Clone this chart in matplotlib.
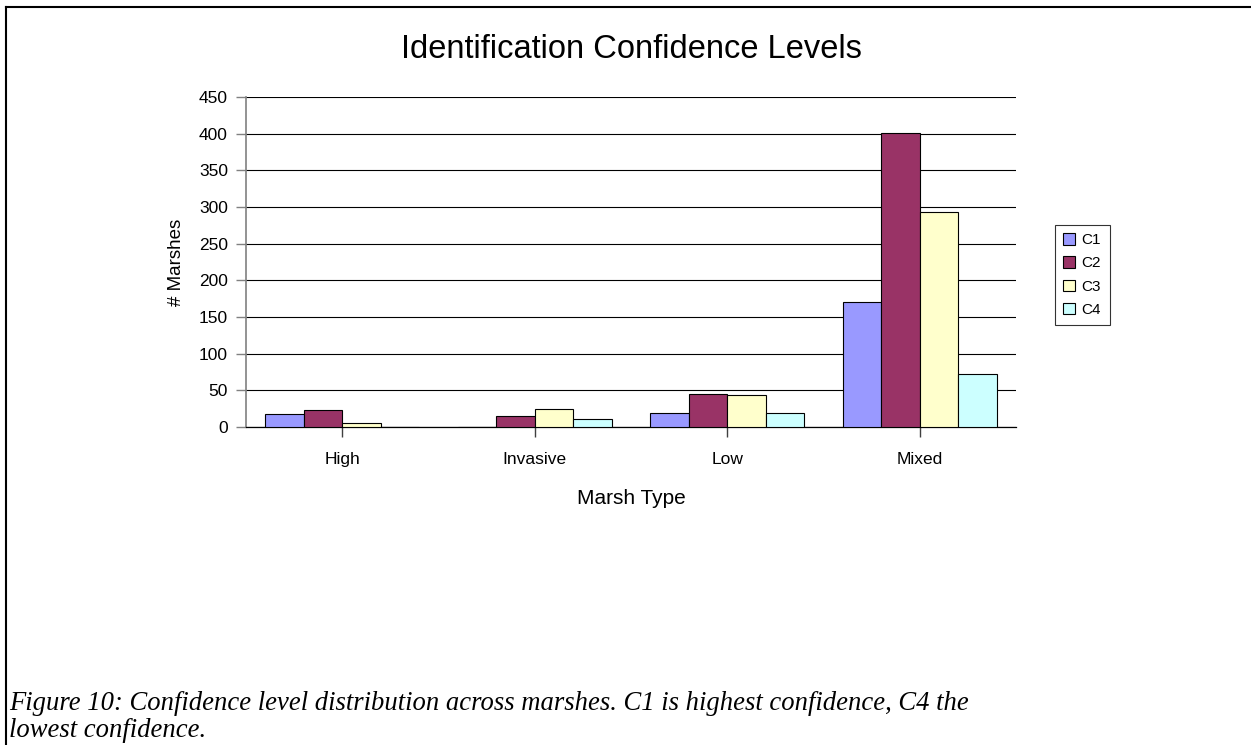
import matplotlib
matplotlib.use("Agg")
import matplotlib.pyplot as plt
from matplotlib.lines import Line2D
import numpy as np

categories = ["High", "Invasive", "Low", "Mixed"]
series = ["C1", "C2", "C3", "C4"]
c1 = [18, 0, 19, 171]
c2 = [23, 15, 45, 401]
c3 = [5, 25, 43, 293]
c4 = [0, 11, 19, 72]
colors = ["#9999FF", "#993366", "#FFFFCC", "#CCFFFF"]

plt.rcParams['font.family'] = ['Liberation Sans', 'DejaVu Sans']

fig = plt.figure(figsize=(12.51, 7.45), dpi=100)
ax = fig.add_axes([246/1251, 1 - 427/745, 770/1251, 330/745])

x = np.arange(len(categories))
w = 0.2
for i, (vals, name) in enumerate(zip([c1, c2, c3, c4], series)):
    ax.bar(x + (i - 1.5) * w, vals, width=w, color=colors[i],
           edgecolor='black', linewidth=0.8, label=name, zorder=3)

ax.set_xlim(-0.5, 3.5)
ax.set_ylim(0, 450)
ax.set_yticks(range(0, 451, 50))
ax.set_xticks(x)
ax.set_xticklabels(categories)
ax.yaxis.grid(True, color='black', linewidth=0.8, zorder=0)
ax.set_axisbelow(True)

for s in ['top', 'right']:
    ax.spines[s].set_visible(False)
ax.spines['left'].set_color('#808080')
ax.spines['left'].set_linewidth(1.2)
ax.spines['bottom'].set_color('black')
ax.spines['bottom'].set_linewidth(0.9)

ax.tick_params(axis='y', length=7, color='#808080', width=1, labelsize=12.5, pad=6)
ax.tick_params(axis='x', length=7, color='#404040', width=1, labelsize=12.5, pad=11)

ax.set_xlabel("Marsh Type", fontsize=15, labelpad=16)
ax.set_ylabel("# Marshes", fontsize=13.5, labelpad=10)

fig.text((246 + 1016) / 2 / 1251, 1 - 50/745, "Identification Confidence Levels",
         ha='center', va='center', fontsize=23.5)

leg = fig.legend(loc='center left', bbox_to_anchor=(1055/1251, 1 - 275/745),
                 fontsize=11, frameon=True, fancybox=False, handlelength=0.75,
                 handleheight=0.75, handletextpad=0.45, labelspacing=0.6,
                 borderpad=0.55, borderaxespad=0)
leg.get_frame().set_edgecolor('black')
leg.get_frame().set_linewidth(0.8)

# page frame lines
fig.add_artist(Line2D([6/1251, 1], [1 - 7/745, 1 - 7/745], color='black', lw=1.5,
                      transform=fig.transFigure))
fig.add_artist(Line2D([6/1251, 6/1251], [0, 1 - 7/745], color='black', lw=1.5,
                      transform=fig.transFigure))

fig.text(9/1251, 1 - 691/745,
         "Figure 10: Confidence level distribution across marshes. C1 is highest confidence, C4 the\nlowest confidence.",
         ha='left', va='top', fontsize=19.2, style='italic',
         family=['Liberation Serif', 'DejaVu Serif'], linespacing=1.12)

fig.savefig("out.png", dpi=100)
